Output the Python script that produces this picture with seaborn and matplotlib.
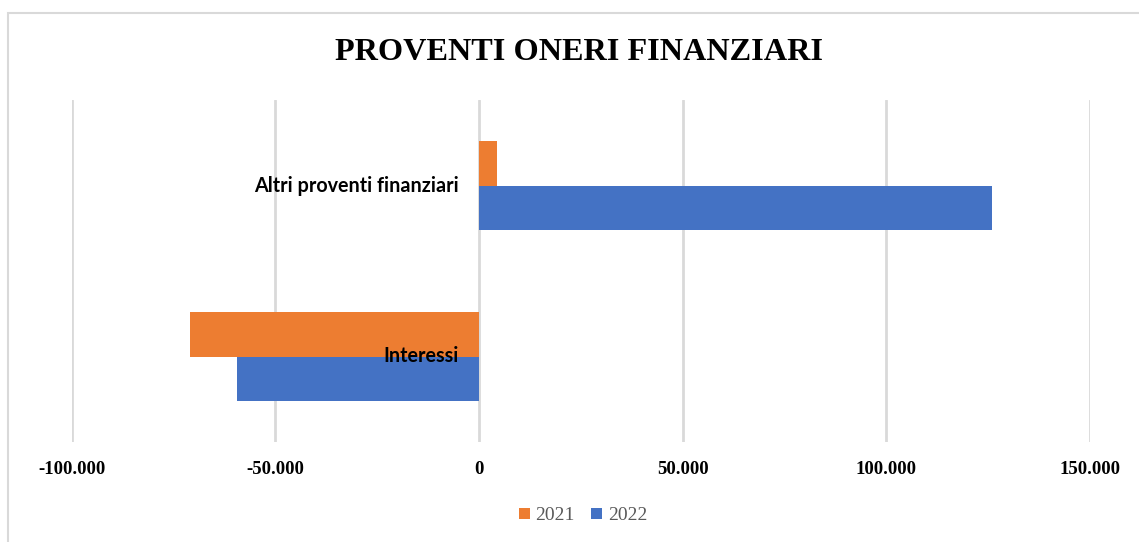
import matplotlib
matplotlib.use("Agg")
import matplotlib.pyplot as plt
import matplotlib.transforms as mtransforms
import seaborn as sns
import pandas as pd
from matplotlib.patches import Rectangle
from matplotlib.ticker import FuncFormatter

categories = ["Altri proventi finanziari", "Interessi"]
years = ["2021", "2022"]
values_2021 = [4400, -71000]
values_2022 = [126000, -59500]
xticks = [-100000, -50000, 0, 50000, 100000, 150000]

df = pd.DataFrame({
    "Categoria": categories * 2,
    "Anno": [years[0]] * len(categories) + [years[1]] * len(categories),
    "Valore": values_2021 + values_2022,
})

sns.set_theme(style="white")
palette = {"2021": "#ED7D31", "2022": "#4472C4"}

fig = plt.figure(figsize=(11.39, 5.42), dpi=100)
ax = fig.add_axes([71.7 / 1139, 1 - 442 / 542, (1090 - 71.7) / 1139, (442 - 100) / 542])

sns.barplot(data=df, y="Categoria", x="Valore", hue="Anno", hue_order=years,
            order=categories, palette=palette, width=0.526, orient="h",
            saturation=1, ax=ax, zorder=3, linewidth=0)

ax.set_xlim(-100000, 150000)
ax.set_ylim(1.5, -0.5)
ax.set_xticks(xticks)
ax.xaxis.set_major_formatter(FuncFormatter(lambda v, p: f"{int(v):,}".replace(",", ".")))
ax.grid(axis="x", color="#d9d9d9", linewidth=2, zorder=0)
ax.grid(axis="y", visible=False)
for s in ["top", "right", "bottom", "left"]:
    ax.spines[s].set_visible(False)
ax.set_xlabel("")
ax.set_ylabel("")
ax.tick_params(axis="x", length=0, pad=14)
ax.tick_params(axis="y", length=0)
ax.set_yticklabels([])
for lab in ax.get_xticklabels():
    lab.set_fontfamily("Liberation Serif")
    lab.set_fontweight("bold")
    lab.set_fontsize(13.5)
    lab.set_color("black")

offset = mtransforms.ScaledTranslation(-20 / 100, 0, fig.dpi_scale_trans)
for i, cat in enumerate(categories):
    ax.text(0, i, cat, transform=ax.transData + offset, ha="right", va="center",
            fontfamily="Lato", fontweight="bold", fontsize=14.2, color="black", zorder=6)

leg = ax.legend(loc="center", bbox_to_anchor=(583 / 1139, 1 - 516 / 542),
                bbox_transform=fig.transFigure, ncol=2, frameon=False,
                handlelength=0.55, handleheight=0.55, handletextpad=0.3,
                columnspacing=0.85, prop={"family": "Liberation Serif", "size": 14})
for t in leg.get_texts():
    t.set_color("#595959")

fig.text(579 / 1139, 1 - 53 / 542, "PROVENTI ONERI FINANZIARI", ha="center", va="center",
         fontfamily="Liberation Serif", fontweight="bold", fontsize=23.2, color="black")

fig.patches.append(Rectangle((8 / 1139, -0.1), 1.2, 1 - 13 / 542 + 0.1, transform=fig.transFigure,
                             fill=False, edgecolor="#d9d9d9", linewidth=1.5))

fig.savefig("out.png", dpi=100)
